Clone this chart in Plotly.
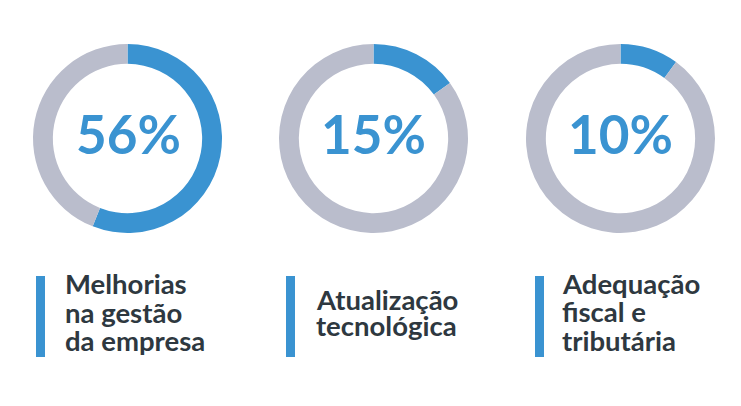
import plotly.graph_objects as go

W, H = 741, 406
OFF = 8  # page body margin offset

percentages = [56, 15, 10]
pct_labels = ["56%", "15%", "10%"]
categories = ["Melhorias<br>na gestão<br>da empresa",
              "Atualização<br>tecnológica",
              "Adequação<br>fiscal e<br>tributária"]

BLUE = "#3a93d1"
GREY = "#babdcc"
DARK = "#2e3840"

centers_x = [127.5, 373.5, 620.5]
pct_x = [128.5, 373.5, 620]
cy = 138.5
r = 94.5
bar_x = [36, 286, 535]
text_x = [63, 314, 560]
first_base = [294, 310, 293.5]
line_gap = [28.5, 26, 28.5]
LAB_SIZE = 27.5


def px(x):
    return (x - OFF) / W


def py(y):
    return 1 - (y - OFF) / H


fig = go.Figure()
for i, p in enumerate(percentages):
    cx = centers_x[i]
    fig.add_trace(go.Pie(
        values=[p, 100 - p],
        marker=dict(colors=[BLUE, GREY], line=dict(width=0)),
        hole=0.79, sort=False, direction="clockwise", rotation=0,
        textinfo="none", hoverinfo="skip", showlegend=False,
        domain=dict(x=[px(cx - r), px(cx + r)], y=[py(cy + r), py(cy - r)]),
    ))
    fig.add_annotation(x=px(pct_x[i]), y=py(133.5), xref="paper", yref="paper",
                       text=pct_labels[i], showarrow=False,
                       xanchor="center", yanchor="middle",
                       font=dict(family="Lato", size=53, color=BLUE, weight="bold"))
    fig.add_shape(type="rect", xref="paper", yref="paper",
                  x0=px(bar_x[i]), x1=px(bar_x[i] + 9),
                  y0=py(357), y1=py(276),
                  fillcolor=BLUE, line=dict(width=0), layer="above")
    for j, line in enumerate(categories[i].split("<br>")):
        base = first_base[i] + j * line_gap[i]
        fig.add_annotation(x=px(text_x[i]), y=py(base - 0.38 * LAB_SIZE),
                           xref="paper", yref="paper", text=line, showarrow=False,
                           xanchor="left", yanchor="middle",
                           font=dict(family="Lato", size=LAB_SIZE, color=DARK, weight="bold"))

fig.update_layout(width=W, height=H, margin=dict(l=0, r=0, t=0, b=0),
                  paper_bgcolor="white", plot_bgcolor="white")
fig.write_html("out.html")
